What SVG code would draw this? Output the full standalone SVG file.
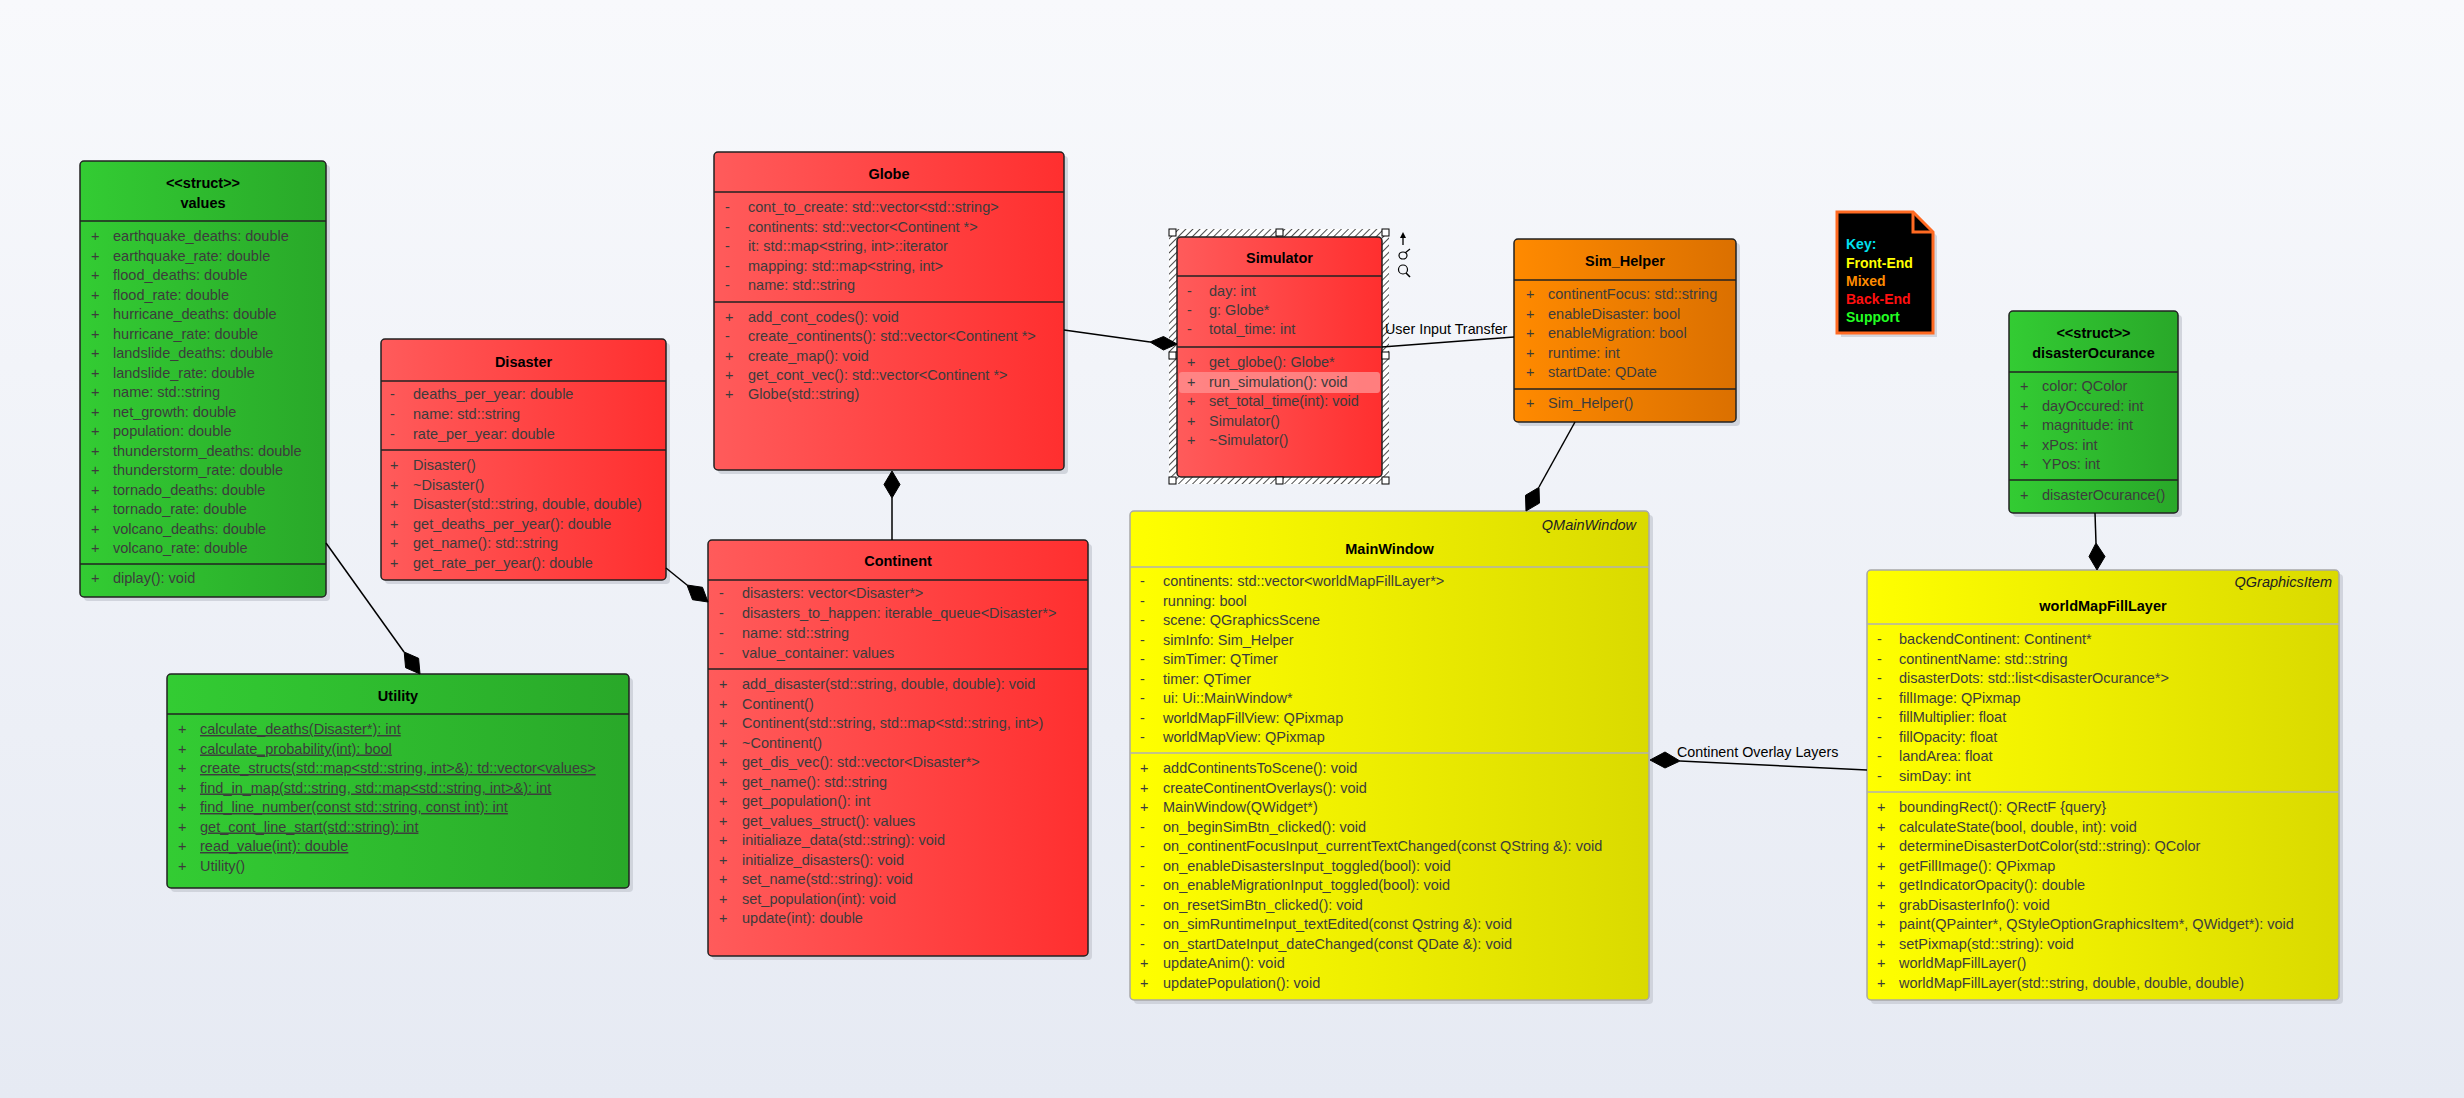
<svg xmlns="http://www.w3.org/2000/svg" width="2464" height="1098" viewBox="0 0 2464 1098">
<defs>
<linearGradient id="bg" x1="0" y1="0" x2="0" y2="1"><stop offset="0" stop-color="#f8f9fc"/><stop offset="1" stop-color="#e6eaf3"/></linearGradient>
<linearGradient id="gR" x1="0" y1="0" x2="1" y2="0"><stop offset="0" stop-color="#ff5b5b"/><stop offset="1" stop-color="#ff2f2f"/></linearGradient>
<linearGradient id="gG" x1="0" y1="0" x2="1" y2="0"><stop offset="0" stop-color="#33cc33"/><stop offset="1" stop-color="#29a829"/></linearGradient>
<linearGradient id="gO" x1="0" y1="0" x2="1" y2="0"><stop offset="0" stop-color="#ff8a00"/><stop offset="1" stop-color="#db7000"/></linearGradient>
<linearGradient id="gY" x1="0" y1="0" x2="1" y2="0"><stop offset="0" stop-color="#ffff00"/><stop offset="1" stop-color="#dada00"/></linearGradient>
<pattern id="hatch" width="5" height="5" patternUnits="userSpaceOnUse" patternTransform="rotate(45)"><rect width="5" height="5" fill="#fff"/><line x1="0" y1="0" x2="0" y2="5" stroke="#000" stroke-width="1.4"/></pattern>
<style>
.t{font-family:"Liberation Sans",Arial,sans-serif;font-size:14.5px;fill:#3c3c3c}
.u{text-decoration:underline}
.h{font-family:"Liberation Sans",Arial,sans-serif;font-size:14.5px;font-weight:bold;fill:#000;text-anchor:middle}
.it{font-family:"Liberation Sans",Arial,sans-serif;font-size:14.5px;font-style:italic;fill:#222;text-anchor:end}
.lbl{font-family:"Liberation Sans",Arial,sans-serif;font-size:14.3px;fill:#000}
.k{font-family:"Liberation Sans",Arial,sans-serif;font-size:14px;font-weight:bold}
.b{stroke:#222;stroke-width:1.5}
.by{stroke:#a8a8a8;stroke-width:1.5}
.d{stroke:#222;stroke-width:1.5}
.dy{stroke:#b0b0b0;stroke-width:1.5}
.sh{fill:#c9cdd6;opacity:0.8}
.c{stroke:#000;stroke-width:1.5;fill:none}
.dm{fill:#000;stroke:#000;stroke-width:1}
.hd{fill:#fff;stroke:#000;stroke-width:1}
</style>
</defs>
<rect x="0" y="0" width="2464" height="1098" fill="url(#bg)"/>

<g id="values">
<rect x="84" y="165" width="246" height="436" rx="4" class="sh"/>
<rect x="80" y="161" width="246" height="436" rx="4" fill="url(#gG)" class="b"/>
<line x1="80" y1="221" x2="326" y2="221" class="d"/>
<line x1="80" y1="564" x2="326" y2="564" class="d"/>
<text class="h" x="203" y="188">&lt;&lt;struct&gt;&gt;</text>
<text class="h" x="203" y="208">values</text>
<text class="t" y="241"><tspan x="91">+</tspan><tspan x="113">earthquake_deaths: double</tspan></text>
<text class="t" y="260.5"><tspan x="91">+</tspan><tspan x="113">earthquake_rate: double</tspan></text>
<text class="t" y="280"><tspan x="91">+</tspan><tspan x="113">flood_deaths: double</tspan></text>
<text class="t" y="299.5"><tspan x="91">+</tspan><tspan x="113">flood_rate: double</tspan></text>
<text class="t" y="319"><tspan x="91">+</tspan><tspan x="113">hurricane_deaths: double</tspan></text>
<text class="t" y="338.5"><tspan x="91">+</tspan><tspan x="113">hurricane_rate: double</tspan></text>
<text class="t" y="358"><tspan x="91">+</tspan><tspan x="113">landslide_deaths: double</tspan></text>
<text class="t" y="377.5"><tspan x="91">+</tspan><tspan x="113">landslide_rate: double</tspan></text>
<text class="t" y="397"><tspan x="91">+</tspan><tspan x="113">name: std::string</tspan></text>
<text class="t" y="416.5"><tspan x="91">+</tspan><tspan x="113">net_growth: double</tspan></text>
<text class="t" y="436"><tspan x="91">+</tspan><tspan x="113">population: double</tspan></text>
<text class="t" y="455.5"><tspan x="91">+</tspan><tspan x="113">thunderstorm_deaths: double</tspan></text>
<text class="t" y="475"><tspan x="91">+</tspan><tspan x="113">thunderstorm_rate: double</tspan></text>
<text class="t" y="494.5"><tspan x="91">+</tspan><tspan x="113">tornado_deaths: double</tspan></text>
<text class="t" y="514"><tspan x="91">+</tspan><tspan x="113">tornado_rate: double</tspan></text>
<text class="t" y="533.5"><tspan x="91">+</tspan><tspan x="113">volcano_deaths: double</tspan></text>
<text class="t" y="553"><tspan x="91">+</tspan><tspan x="113">volcano_rate: double</tspan></text>
<text class="t" y="583"><tspan x="91">+</tspan><tspan x="113">diplay(): void</tspan></text>
</g>

<g id="Disaster">
<rect x="385" y="343" width="285" height="241" rx="4" class="sh"/>
<rect x="381" y="339" width="285" height="241" rx="4" fill="url(#gR)" class="b"/>
<line x1="381" y1="381" x2="666" y2="381" class="d"/>
<line x1="381" y1="450" x2="666" y2="450" class="d"/>
<text class="h" x="523.5" y="367">Disaster</text>
<text class="t" y="399"><tspan x="390">-</tspan><tspan x="413">deaths_per_year: double</tspan></text>
<text class="t" y="419"><tspan x="390">-</tspan><tspan x="413">name: std::string</tspan></text>
<text class="t" y="439"><tspan x="390">-</tspan><tspan x="413">rate_per_year: double</tspan></text>
<text class="t" y="470"><tspan x="390">+</tspan><tspan x="413">Disaster()</tspan></text>
<text class="t" y="489.5"><tspan x="390">+</tspan><tspan x="413">~Disaster()</tspan></text>
<text class="t" y="509"><tspan x="390">+</tspan><tspan x="413">Disaster(std::string, double, double)</tspan></text>
<text class="t" y="528.5"><tspan x="390">+</tspan><tspan x="413">get_deaths_per_year(): double</tspan></text>
<text class="t" y="548"><tspan x="390">+</tspan><tspan x="413">get_name(): std::string</tspan></text>
<text class="t" y="567.5"><tspan x="390">+</tspan><tspan x="413">get_rate_per_year(): double</tspan></text>
</g>

<g id="Globe">
<rect x="718" y="156" width="350" height="318" rx="4" class="sh"/>
<rect x="714" y="152" width="350" height="318" rx="4" fill="url(#gR)" class="b"/>
<line x1="714" y1="192" x2="1064" y2="192" class="d"/>
<line x1="714" y1="302" x2="1064" y2="302" class="d"/>
<text class="h" x="889" y="179">Globe</text>
<text class="t" y="212"><tspan x="725">-</tspan><tspan x="748">cont_to_create: std::vector&lt;std::string&gt;</tspan></text>
<text class="t" y="232"><tspan x="725">-</tspan><tspan x="748">continents: std::vector&lt;Continent *&gt;</tspan></text>
<text class="t" y="251"><tspan x="725">-</tspan><tspan x="748">it: std::map&lt;string, int&gt;::iterator</tspan></text>
<text class="t" y="271"><tspan x="725">-</tspan><tspan x="748">mapping: std::map&lt;string, int&gt;</tspan></text>
<text class="t" y="290"><tspan x="725">-</tspan><tspan x="748">name: std::string</tspan></text>
<text class="t" y="322"><tspan x="725">+</tspan><tspan x="748">add_cont_codes(): void</tspan></text>
<text class="t" y="341"><tspan x="725">-</tspan><tspan x="748">create_continents(): std::vector&lt;Continent *&gt;</tspan></text>
<text class="t" y="361"><tspan x="725">+</tspan><tspan x="748">create_map(): void</tspan></text>
<text class="t" y="380"><tspan x="725">+</tspan><tspan x="748">get_cont_vec(): std::vector&lt;Continent *&gt;</tspan></text>
<text class="t" y="399"><tspan x="725">+</tspan><tspan x="748">Globe(std::string)</tspan></text>
</g>

<g id="Simulator">
<rect x="1169" y="229" width="220" height="255" fill="url(#hatch)"/>
<rect x="1177" y="237" width="205" height="240" rx="4" fill="url(#gR)" class="b"/>
<line x1="1177" y1="276" x2="1382" y2="276" class="d"/>
<line x1="1177" y1="347" x2="1382" y2="347" class="d"/>
<rect x="1179" y="372" width="201" height="21" rx="3" fill="#ff8c8c" opacity="0.85"/>
<text class="h" x="1279.5" y="263">Simulator</text>
<text class="t" y="296"><tspan x="1187">-</tspan><tspan x="1209">day: int</tspan></text>
<text class="t" y="315"><tspan x="1187">-</tspan><tspan x="1209">g: Globe*</tspan></text>
<text class="t" y="334"><tspan x="1187">-</tspan><tspan x="1209">total_time: int</tspan></text>
<text class="t" y="367"><tspan x="1187">+</tspan><tspan x="1209">get_globe(): Globe*</tspan></text>
<text class="t" y="387"><tspan x="1187">+</tspan><tspan x="1209">run_simulation(): void</tspan></text>
<text class="t" y="406"><tspan x="1187">+</tspan><tspan x="1209">set_total_time(int): void</tspan></text>
<text class="t" y="425.5"><tspan x="1187">+</tspan><tspan x="1209">Simulator()</tspan></text>
<text class="t" y="445"><tspan x="1187">+</tspan><tspan x="1209">~Simulator()</tspan></text>
<rect x="1169" y="229" width="7" height="7" class="hd"/>
<rect x="1276" y="229" width="7" height="7" class="hd"/>
<rect x="1382" y="229" width="7" height="7" class="hd"/>
<rect x="1169" y="352" width="7" height="7" class="hd"/>
<rect x="1382" y="352" width="7" height="7" class="hd"/>
<rect x="1169" y="477" width="7" height="7" class="hd"/>
<rect x="1276" y="477" width="7" height="7" class="hd"/>
<rect x="1382" y="477" width="7" height="7" class="hd"/>
<line x1="1403" y1="245" x2="1403" y2="235" stroke="#000" stroke-width="1.3"/>
<polygon points="1400,238 1403,232 1406,238" fill="#000"/>
<ellipse cx="1403" cy="255.5" rx="4" ry="3.5" fill="none" stroke="#000" stroke-width="1.2"/>
<line x1="1405" y1="253" x2="1410" y2="249" stroke="#000" stroke-width="1.2"/>
<circle cx="1403" cy="269.5" r="4.5" fill="none" stroke="#000" stroke-width="1.2"/>
<line x1="1406" y1="273" x2="1410" y2="277" stroke="#000" stroke-width="1.6"/>
</g>

<g id="Sim_Helper">
<rect x="1518" y="243" width="222" height="183" rx="4" class="sh"/>
<rect x="1514" y="239" width="222" height="183" rx="4" fill="url(#gO)" class="b"/>
<line x1="1514" y1="280" x2="1736" y2="280" class="d"/>
<line x1="1514" y1="389" x2="1736" y2="389" class="d"/>
<text class="h" x="1625" y="266">Sim_Helper</text>
<text class="t" y="299"><tspan x="1526">+</tspan><tspan x="1548">continentFocus: std::string</tspan></text>
<text class="t" y="318.5"><tspan x="1526">+</tspan><tspan x="1548">enableDisaster: bool</tspan></text>
<text class="t" y="338"><tspan x="1526">+</tspan><tspan x="1548">enableMigration: bool</tspan></text>
<text class="t" y="357.5"><tspan x="1526">+</tspan><tspan x="1548">runtime: int</tspan></text>
<text class="t" y="377"><tspan x="1526">+</tspan><tspan x="1548">startDate: QDate</tspan></text>
<text class="t" y="408"><tspan x="1526">+</tspan><tspan x="1548">Sim_Helper()</tspan></text>
</g>

<g id="Key">
<polygon points="1841,216 1917,216 1937,236 1937,337 1841,337" fill="#c9cdd6" opacity="0.8"/>
<polygon points="1837,212 1913,212 1933,232 1933,333 1837,333" fill="#000" stroke="#ff6a22" stroke-width="3"/>
<polyline points="1913,212 1913,232 1933,232" fill="none" stroke="#ff6a22" stroke-width="3"/>
<text class="k" x="1846" y="249" fill="#00e0f0">Key:</text>
<text class="k" x="1846" y="268" fill="#ffff00">Front-End</text>
<text class="k" x="1846" y="286" fill="#ff8c00">Mixed</text>
<text class="k" x="1846" y="304" fill="#ff1010">Back-End</text>
<text class="k" x="1846" y="322" fill="#22ff22">Support</text>
</g>

<g id="disasterOcurance">
<rect x="2013" y="315" width="169" height="202" rx="4" class="sh"/>
<rect x="2009" y="311" width="169" height="202" rx="4" fill="url(#gG)" class="b"/>
<line x1="2009" y1="372" x2="2178" y2="372" class="d"/>
<line x1="2009" y1="480" x2="2178" y2="480" class="d"/>
<text class="h" x="2093.5" y="338">&lt;&lt;struct&gt;&gt;</text>
<text class="h" x="2093.5" y="358">disasterOcurance</text>
<text class="t" y="391"><tspan x="2020">+</tspan><tspan x="2042">color: QColor</tspan></text>
<text class="t" y="410.5"><tspan x="2020">+</tspan><tspan x="2042">dayOccured: int</tspan></text>
<text class="t" y="430"><tspan x="2020">+</tspan><tspan x="2042">magnitude: int</tspan></text>
<text class="t" y="449.5"><tspan x="2020">+</tspan><tspan x="2042">xPos: int</tspan></text>
<text class="t" y="469"><tspan x="2020">+</tspan><tspan x="2042">YPos: int</tspan></text>
<text class="t" y="500"><tspan x="2020">+</tspan><tspan x="2042">disasterOcurance()</tspan></text>
</g>

<g id="Continent">
<rect x="712" y="544" width="380" height="416" rx="4" class="sh"/>
<rect x="708" y="540" width="380" height="416" rx="4" fill="url(#gR)" class="b"/>
<line x1="708" y1="580" x2="1088" y2="580" class="d"/>
<line x1="708" y1="669" x2="1088" y2="669" class="d"/>
<text class="h" x="898" y="566">Continent</text>
<text class="t" y="598"><tspan x="719">-</tspan><tspan x="742">disasters: vector&lt;Disaster*&gt;</tspan></text>
<text class="t" y="618"><tspan x="719">-</tspan><tspan x="742">disasters_to_happen: iterable_queue&lt;Disaster*&gt;</tspan></text>
<text class="t" y="638"><tspan x="719">-</tspan><tspan x="742">name: std::string</tspan></text>
<text class="t" y="658"><tspan x="719">-</tspan><tspan x="742">value_container: values</tspan></text>
<text class="t" y="689"><tspan x="719">+</tspan><tspan x="742">add_disaster(std::string, double, double): void</tspan></text>
<text class="t" y="708.5"><tspan x="719">+</tspan><tspan x="742">Continent()</tspan></text>
<text class="t" y="728"><tspan x="719">+</tspan><tspan x="742">Continent(std::string, std::map&lt;std::string, int&gt;)</tspan></text>
<text class="t" y="747.5"><tspan x="719">+</tspan><tspan x="742">~Continent()</tspan></text>
<text class="t" y="767"><tspan x="719">+</tspan><tspan x="742">get_dis_vec(): std::vector&lt;Disaster*&gt;</tspan></text>
<text class="t" y="786.5"><tspan x="719">+</tspan><tspan x="742">get_name(): std::string</tspan></text>
<text class="t" y="806"><tspan x="719">+</tspan><tspan x="742">get_population(): int</tspan></text>
<text class="t" y="825.5"><tspan x="719">+</tspan><tspan x="742">get_values_struct(): values</tspan></text>
<text class="t" y="845"><tspan x="719">+</tspan><tspan x="742">initialiaze_data(std::string): void</tspan></text>
<text class="t" y="864.5"><tspan x="719">+</tspan><tspan x="742">initialize_disasters(): void</tspan></text>
<text class="t" y="884"><tspan x="719">+</tspan><tspan x="742">set_name(std::string): void</tspan></text>
<text class="t" y="903.5"><tspan x="719">+</tspan><tspan x="742">set_population(int): void</tspan></text>
<text class="t" y="923"><tspan x="719">+</tspan><tspan x="742">update(int): double</tspan></text>
</g>

<g id="Utility">
<rect x="171" y="678" width="462" height="214" rx="4" class="sh"/>
<rect x="167" y="674" width="462" height="214" rx="4" fill="url(#gG)" class="b"/>
<line x1="167" y1="714" x2="629" y2="714" class="d"/>
<text class="h" x="398" y="701">Utility</text>
<text class="t" y="734"><tspan x="178">+</tspan><tspan x="200" class="u">calculate_deaths(Disaster*): int</tspan></text>
<text class="t" y="753.5"><tspan x="178">+</tspan><tspan x="200" class="u">calculate_probability(int): bool</tspan></text>
<text class="t" y="773"><tspan x="178">+</tspan><tspan x="200" class="u">create_structs(std::map&lt;std::string, int&gt;&amp;): td::vector&lt;values&gt;</tspan></text>
<text class="t" y="792.5"><tspan x="178">+</tspan><tspan x="200" class="u">find_in_map(std::string, std::map&lt;std::string, int&gt;&amp;): int</tspan></text>
<text class="t" y="812"><tspan x="178">+</tspan><tspan x="200" class="u">find_line_number(const std::string, const int): int</tspan></text>
<text class="t" y="831.5"><tspan x="178">+</tspan><tspan x="200" class="u">get_cont_line_start(std::string): int</tspan></text>
<text class="t" y="851"><tspan x="178">+</tspan><tspan x="200" class="u">read_value(int): double</tspan></text>
<text class="t" y="870.5"><tspan x="178">+</tspan><tspan x="200">Utility()</tspan></text>
</g>

<g id="MainWindow">
<rect x="1134" y="515" width="519" height="489" rx="4" class="sh"/>
<rect x="1130" y="511" width="519" height="489" rx="4" fill="url(#gY)" class="by"/>
<line x1="1130" y1="567" x2="1649" y2="567" class="dy"/>
<line x1="1130" y1="753" x2="1649" y2="753" class="dy"/>
<text class="it" x="1636" y="530">QMainWindow</text>
<text class="h" x="1389.5" y="554">MainWindow</text>
<text class="t" y="586"><tspan x="1140">-</tspan><tspan x="1163">continents: std::vector&lt;worldMapFillLayer*&gt;</tspan></text>
<text class="t" y="605.5"><tspan x="1140">-</tspan><tspan x="1163">running: bool</tspan></text>
<text class="t" y="625"><tspan x="1140">-</tspan><tspan x="1163">scene: QGraphicsScene</tspan></text>
<text class="t" y="644.5"><tspan x="1140">-</tspan><tspan x="1163">simInfo: Sim_Helper</tspan></text>
<text class="t" y="664"><tspan x="1140">-</tspan><tspan x="1163">simTimer: QTimer</tspan></text>
<text class="t" y="683.5"><tspan x="1140">-</tspan><tspan x="1163">timer: QTimer</tspan></text>
<text class="t" y="703"><tspan x="1140">-</tspan><tspan x="1163">ui: Ui::MainWindow*</tspan></text>
<text class="t" y="722.5"><tspan x="1140">-</tspan><tspan x="1163">worldMapFillView: QPixmap</tspan></text>
<text class="t" y="742"><tspan x="1140">-</tspan><tspan x="1163">worldMapView: QPixmap</tspan></text>
<text class="t" y="773"><tspan x="1140">+</tspan><tspan x="1163">addContinentsToScene(): void</tspan></text>
<text class="t" y="792.5"><tspan x="1140">+</tspan><tspan x="1163">createContinentOverlays(): void</tspan></text>
<text class="t" y="812"><tspan x="1140">+</tspan><tspan x="1163">MainWindow(QWidget*)</tspan></text>
<text class="t" y="831.5"><tspan x="1140">-</tspan><tspan x="1163">on_beginSimBtn_clicked(): void</tspan></text>
<text class="t" y="851"><tspan x="1140">-</tspan><tspan x="1163">on_continentFocusInput_currentTextChanged(const QString &amp;): void</tspan></text>
<text class="t" y="870.5"><tspan x="1140">-</tspan><tspan x="1163">on_enableDisastersInput_toggled(bool): void</tspan></text>
<text class="t" y="890"><tspan x="1140">-</tspan><tspan x="1163">on_enableMigrationInput_toggled(bool): void</tspan></text>
<text class="t" y="909.5"><tspan x="1140">-</tspan><tspan x="1163">on_resetSimBtn_clicked(): void</tspan></text>
<text class="t" y="929"><tspan x="1140">-</tspan><tspan x="1163">on_simRuntimeInput_textEdited(const Qstring &amp;): void</tspan></text>
<text class="t" y="948.5"><tspan x="1140">-</tspan><tspan x="1163">on_startDateInput_dateChanged(const QDate &amp;): void</tspan></text>
<text class="t" y="968"><tspan x="1140">+</tspan><tspan x="1163">updateAnim(): void</tspan></text>
<text class="t" y="987.5"><tspan x="1140">+</tspan><tspan x="1163">updatePopulation(): void</tspan></text>
</g>

<g id="worldMapFillLayer">
<rect x="1871" y="574" width="472" height="430" rx="4" class="sh"/>
<rect x="1867" y="570" width="472" height="430" rx="4" fill="url(#gY)" class="by"/>
<line x1="1867" y1="624" x2="2339" y2="624" class="dy"/>
<line x1="1867" y1="792" x2="2339" y2="792" class="dy"/>
<text class="it" x="2332" y="587">QGraphicsItem</text>
<text class="h" x="2103" y="611">worldMapFillLayer</text>
<text class="t" y="644"><tspan x="1877">-</tspan><tspan x="1899">backendContinent: Continent*</tspan></text>
<text class="t" y="663.5"><tspan x="1877">-</tspan><tspan x="1899">continentName: std::string</tspan></text>
<text class="t" y="683"><tspan x="1877">-</tspan><tspan x="1899">disasterDots: std::list&lt;disasterOcurance*&gt;</tspan></text>
<text class="t" y="702.5"><tspan x="1877">-</tspan><tspan x="1899">fillImage: QPixmap</tspan></text>
<text class="t" y="722"><tspan x="1877">-</tspan><tspan x="1899">fillMultiplier: float</tspan></text>
<text class="t" y="741.5"><tspan x="1877">-</tspan><tspan x="1899">fillOpacity: float</tspan></text>
<text class="t" y="761"><tspan x="1877">-</tspan><tspan x="1899">landArea: float</tspan></text>
<text class="t" y="780.5"><tspan x="1877">-</tspan><tspan x="1899">simDay: int</tspan></text>
<text class="t" y="812"><tspan x="1877">+</tspan><tspan x="1899">boundingRect(): QRectF {query}</tspan></text>
<text class="t" y="831.5"><tspan x="1877">+</tspan><tspan x="1899">calculateState(bool, double, int): void</tspan></text>
<text class="t" y="851"><tspan x="1877">+</tspan><tspan x="1899">determineDisasterDotColor(std::string): QColor</tspan></text>
<text class="t" y="870.5"><tspan x="1877">+</tspan><tspan x="1899">getFillImage(): QPixmap</tspan></text>
<text class="t" y="890"><tspan x="1877">+</tspan><tspan x="1899">getIndicatorOpacity(): double</tspan></text>
<text class="t" y="909.5"><tspan x="1877">+</tspan><tspan x="1899">grabDisasterInfo(): void</tspan></text>
<text class="t" y="929"><tspan x="1877">+</tspan><tspan x="1899">paint(QPainter*, QStyleOptionGraphicsItem*, QWidget*): void</tspan></text>
<text class="t" y="948.5"><tspan x="1877">+</tspan><tspan x="1899">setPixmap(std::string): void</tspan></text>
<text class="t" y="968"><tspan x="1877">+</tspan><tspan x="1899">worldMapFillLayer()</tspan></text>
<text class="t" y="987.5"><tspan x="1877">+</tspan><tspan x="1899">worldMapFillLayer(std::string, double, double, double)</tspan></text>
</g>

<g id="connectors">
<line x1="326" y1="543" x2="404" y2="652" class="c"/>
<polygon points="420,674 418.6,658.3 404.2,652 405.6,667.7" class="dm"/>
<line x1="666" y1="568" x2="687" y2="585" class="c"/>
<polygon points="708,602 702.5,587.3 687,585 692.5,599.7" class="dm"/>
<line x1="892" y1="498" x2="892" y2="540" class="c"/>
<polygon points="892,471 900,484.5 892,498 884,484.5" class="dm"/>
<line x1="1064" y1="330" x2="1150" y2="342" class="c"/>
<polygon points="1177,344 1163.5,336.5 1150,342 1163.5,350" class="dm"/>
<line x1="1382" y1="347" x2="1514" y2="337" class="c"/>
<text class="lbl" x="1385" y="334">User Input Transfer</text>
<line x1="1575" y1="422" x2="1539" y2="487" class="c"/>
<polygon points="1526,511 1539.5,503.1 1539,487.3 1525.5,495.3" class="dm"/>
<line x1="1867" y1="770" x2="1680" y2="761" class="c"/>
<polygon points="1650,760 1665,752 1680,761 1665,768" class="dm"/>
<text class="lbl" x="1677" y="757">Continent Overlay Layers</text>
<line x1="2095" y1="513" x2="2096" y2="543" class="c"/>
<polygon points="2097,570 2105,556.5 2096,543 2089,556.5" class="dm"/>
</g>
</svg>
